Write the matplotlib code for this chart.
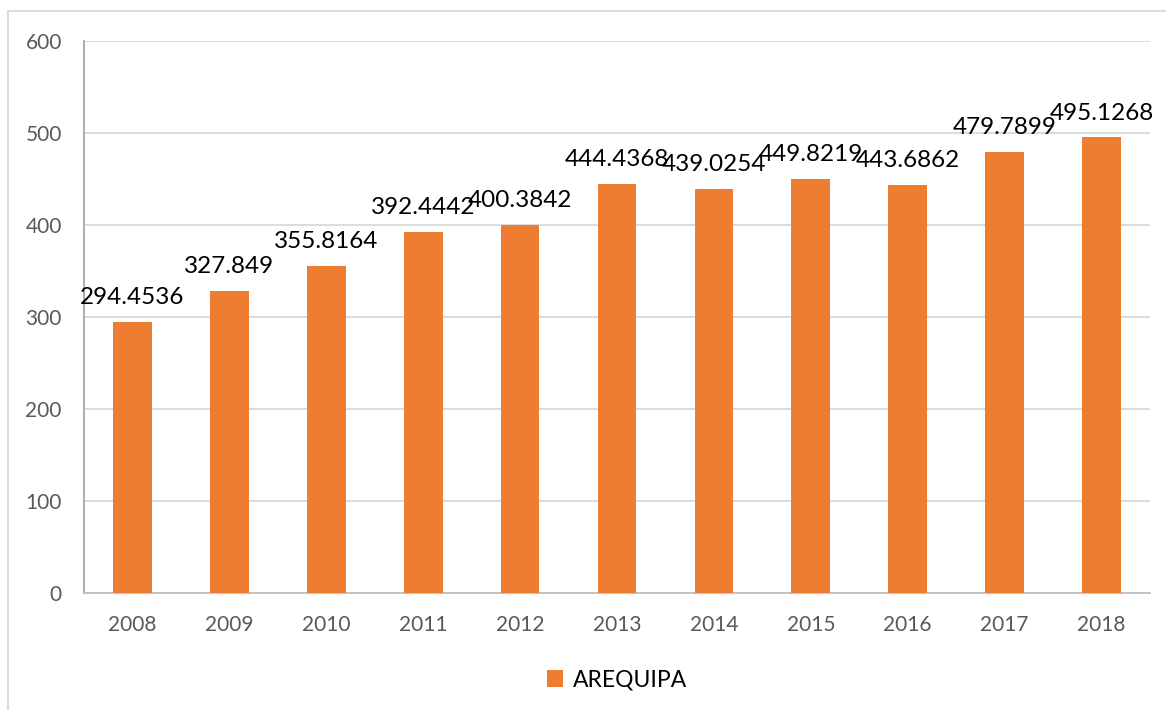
import numpy as np
import matplotlib
matplotlib.use("Agg")
import matplotlib.pyplot as plt
from matplotlib.patches import Rectangle

# ============================================================
# DATA
# ============================================================

years = ["2008", "2009", "2010", "2011", "2012", "2013",
         "2014", "2015", "2016", "2017", "2018"]
values = [294.4536, 327.849, 355.8164, 392.4442, 400.3842, 444.4368,
          439.0254, 449.8219, 443.6862, 479.7899, 495.1268]
value_labels = ["294.4536", "327.849", "355.8164", "392.4442", "400.3842", "444.4368",
                "439.0254", "449.8219", "443.6862", "479.7899", "495.1268"]
y_ticks = [0, 100, 200, 300, 400, 500, 600]
series_name = "AREQUIPA"

BAR_COLOR = "#ED7D31"
GRID_COLOR = "#D9D9D9"
TICK_COLOR = "#595959"

plt.rcParams["font.family"] = ["Lato", "DejaVu Sans"]

W, H = 1166, 710
fig = plt.figure(figsize=(W / 100, H / 100), dpi=100)

# chart border (top and left edges visible)
fig.patches.append(Rectangle((8 / W, -0.1), 1.2, 1.1 - 11 / H,
                             transform=fig.transFigure, fill=False,
                             edgecolor=GRID_COLOR, linewidth=1.3))

ax = fig.add_axes([84 / W, 1 - 593 / H, (1150 - 84) / W, (593 - 41) / H])

x = np.arange(len(years))
bars = ax.bar(x, values, width=0.4, color=BAR_COLOR, label=series_name, zorder=3)

for xi, v, lab in zip(x, values, value_labels):
    ax.annotate(lab, (xi, v), xytext=(0, 10), textcoords="offset points",
                ha="center", va="bottom", fontsize=17.5, color="black", zorder=4)

ax.set_xlim(-0.5, len(years) - 0.5)
ax.set_ylim(0, 600)
ax.set_yticks(y_ticks)
ax.set_xticks(x)
ax.set_xticklabels(years)

ax.grid(axis="y", color=GRID_COLOR, linewidth=1.3, zorder=0)
for s in ["top", "right"]:
    ax.spines[s].set_visible(False)
ax.spines["left"].set_color("#A6A6A6")
ax.spines["bottom"].set_color("#BFBFBF")
ax.spines["left"].set_linewidth(1.3)
ax.spines["bottom"].set_linewidth(1.3)

ax.tick_params(axis="both", length=0, labelsize=15, labelcolor=TICK_COLOR)
ax.tick_params(axis="y", pad=16)
ax.tick_params(axis="x", pad=16)

ax.legend(loc="center", bbox_to_anchor=(0.5, (593 - 680) / (593 - 41)),
          frameon=False, fontsize=16.5, handlelength=0.7, handleheight=0.7,
          handletextpad=0.45)

fig.savefig("out.png", dpi=100)
plt.close(fig)
